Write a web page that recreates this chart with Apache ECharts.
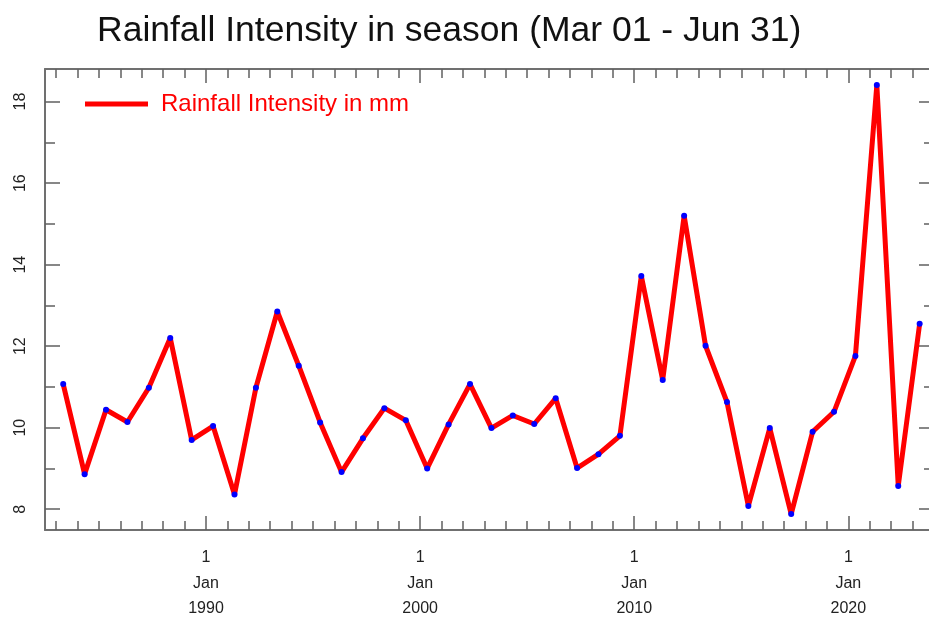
<!DOCTYPE html>
<html>
<head>
<meta charset="utf-8">
<script src="https://cdn.jsdelivr.net/npm/echarts@6/dist/echarts.min.js"></script>
<style>
html,body{margin:0;padding:0;background:#fff;}
#main{width:929px;height:617px;}
</style>
</head>
<body>
<div id="main"></div>
<script>
// Data (one value per season, 1983-2023)
const years = [1983,1984,1985,1986,1987,1988,1989,1990,1991,1992,1993,1994,1995,1996,1997,1998,1999,2000,2001,2002,2003,2004,2005,2006,2007,2008,2009,2010,2011,2012,2013,2014,2015,2016,2017,2018,2019,2020,2021,2022,2023];
const intensity = [11.07,8.86,10.44,10.14,10.98,12.20,9.70,10.04,8.36,10.98,12.85,11.52,10.13,8.91,9.74,10.48,10.18,9.00,10.08,11.07,9.99,10.30,10.09,10.72,9.01,9.35,9.80,13.72,11.17,15.20,12.01,10.63,8.08,9.99,7.88,9.90,10.39,11.76,18.41,8.57,12.55];
const seasonOffset = 0.33; // mid-season position within each year (around 1 May)
const yearTicks = [1983,1984,1985,1986,1987,1988,1989,1990,1991,1992,1993,1994,1995,1996,1997,1998,1999,2000,2001,2002,2003,2004,2005,2006,2007,2008,2009,2010,2011,2012,2013,2014,2015,2016,2017,2018,2019,2020,2021,2022,2023];
const decadeTicks = [1990,2000,2010,2020];
const yMajorTicks = [8,10,12,14,16,18];
const yMinorTicks = [9,11,13,15,17];

const points = years.map((y, i) => [y + seasonOffset, intensity[i]]);

const frameColor = '#707070';
const tickColor = '#606060';
const font = '"Liberation Sans", Arial, Helvetica, sans-serif';
const xMin = 1982.48, xMax = 2024.0, yMin = 7.49, yMax = 18.80;

function xAx(pos, ticks, len, labels, line) {
  return {
    type: 'value', min: xMin, max: xMax, position: pos,
    axisLine: {show: line, onZero: false, lineStyle: {color: frameColor, width: 2}},
    axisTick: {show: true, inside: true, customValues: ticks, length: len, lineStyle: {color: tickColor, width: 1.5}},
    axisLabel: labels ? {
      show: true, customValues: decadeTicks, formatter: v => '1\nJan\n' + v,
      fontFamily: font, fontSize: 16, color: '#222', lineHeight: 25.5, margin: 15
    } : {show: false},
    splitLine: {show: false}
  };
}
function yAx(pos, ticks, len, labels, line) {
  return {
    type: 'value', min: yMin, max: yMax, position: pos,
    axisLine: {show: line, onZero: false, lineStyle: {color: frameColor, width: 2}},
    axisTick: {show: true, inside: true, customValues: ticks, length: len, lineStyle: {color: tickColor, width: 1.5}},
    axisLabel: labels ? {
      show: true, customValues: yMajorTicks, rotate: 90,
      fontFamily: font, fontSize: 16, color: '#222', margin: 16
    } : {show: false},
    splitLine: {show: false}
  };
}

const chart = echarts.init(document.getElementById('main'), null, {renderer: 'canvas'});
chart.setOption({
  backgroundColor: '#fff',
  animation: false,
  title: {
    text: 'Rainfall Intensity in season (Mar 01 - Jun 31)',
    left: 92, top: 8,
    textStyle: {fontFamily: font, fontSize: 35.5, fontWeight: 'normal', color: '#111'}
  },
  legend: {
    left: 80, top: 87, orient: 'vertical',
    icon: 'rect', itemWidth: 63, itemHeight: 5,
    textStyle: {fontFamily: font, fontSize: 24, color: '#ff0000', padding: [0, 0, 0, 8]},
    data: [{name: 'Rainfall Intensity in mm', itemStyle: {color: '#ff0000'}}]
  },
  grid: {left: 45, top: 69, width: 889, height: 461, containLabel: false, outerBoundsMode: 'none'},
  xAxis: [
    xAx('bottom', yearTicks, 9, true, true),
    xAx('bottom', decadeTicks, 14, false, false),
    xAx('top', yearTicks, 9, false, true),
    xAx('top', decadeTicks, 14, false, false)
  ],
  yAxis: [
    yAx('left', yMajorTicks, 15, true, true),
    yAx('left', yMinorTicks, 10, false, false),
    yAx('right', yMajorTicks, 15, false, true),
    yAx('right', yMinorTicks, 10, false, false)
  ],
  series: [{
    name: 'Rainfall Intensity in mm',
    type: 'line',
    xAxisIndex: 0, yAxisIndex: 0,
    data: points,
    lineStyle: {color: '#ff0000', width: 5},
    itemStyle: {color: '#0000ff', borderWidth: 0},
    symbol: 'circle', symbolSize: 6, showSymbol: true,
    z: 3
  }]
});
</script>
</body>
</html>
